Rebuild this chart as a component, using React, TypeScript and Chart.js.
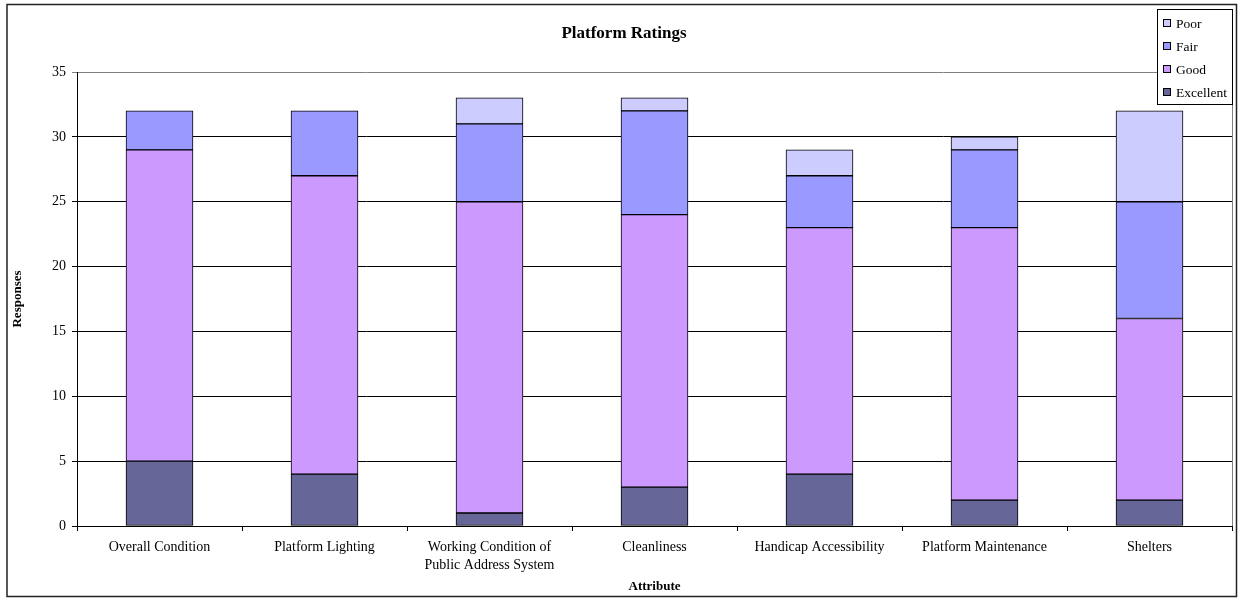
import { useEffect, useRef } from 'react';
import { Chart, registerables } from 'chart.js';

Chart.register(...registerables);

// Survey responses per platform attribute
const categories: (string | string[])[] = [
  'Overall Condition',
  'Platform Lighting',
  ['Working Condition of', 'Public Address System'],
  'Cleanliness',
  'Handicap Accessibility',
  'Platform Maintenance',
  'Shelters',
];
const excellent = [5, 4, 1, 3, 4, 2, 2];
const good = [24, 23, 24, 21, 19, 21, 14];
const fair = [3, 5, 6, 8, 4, 6, 9];
const poor = [0, 0, 2, 1, 2, 1, 7];

const seriesNames = ['Excellent', 'Good', 'Fair', 'Poor'];
const seriesColors = ['#666699', '#CC99FF', '#9999FF', '#CCCCFF'];

const chartTitle = 'Platform Ratings';
const xTitle = 'Attribute';
const yTitle = 'Responses';
const yMax = 35;
const yStep = 5;

const SERIF = "'Liberation Serif', 'Times New Roman', serif";

const decorations = {
  id: 'decorations',
  afterDraw(chart: Chart) {
    const { ctx, chartArea, width, height } = chart;
    ctx.save();

    // plot-area right edge
    ctx.strokeStyle = '#808080';
    ctx.lineWidth = 1;
    ctx.beginPath();
    ctx.moveTo(Math.round(chartArea.right) + 0.5, chartArea.top);
    ctx.lineTo(Math.round(chartArea.right) + 0.5, chartArea.bottom);
    ctx.stroke();

    // outer frame
    ctx.strokeStyle = '#222';
    ctx.lineWidth = 1.5;
    ctx.strokeRect(7, 4.5, width - 8.5, height - 6);

    // title
    ctx.fillStyle = '#000';
    ctx.textAlign = 'center';
    ctx.textBaseline = 'middle';
    ctx.font = `bold 17px ${SERIF}`;
    ctx.fillText(chartTitle, 624, 34);

    // axis titles
    ctx.font = `bold 13px ${SERIF}`;
    ctx.fillText(xTitle, (chartArea.left + chartArea.right) / 2, 587);
    ctx.save();
    ctx.translate(18, (chartArea.top + chartArea.bottom) / 2);
    ctx.rotate(-Math.PI / 2);
    ctx.fillText(yTitle, 0, 0);
    ctx.restore();

    // legend (top series first)
    const lx = 1157;
    const ly = 9;
    const lw = 75;
    const lh = 95;
    ctx.fillStyle = '#fff';
    ctx.fillRect(lx, ly, lw, lh);
    ctx.strokeStyle = '#000';
    ctx.lineWidth = 1;
    ctx.strokeRect(lx + 0.5, ly + 0.5, lw, lh);
    ctx.font = `13.5px ${SERIF}`;
    ctx.textAlign = 'left';
    for (let i = 0; i < seriesNames.length; i++) {
      const idx = seriesNames.length - 1 - i;
      const cy = 23 + i * 23;
      ctx.fillStyle = seriesColors[idx];
      ctx.fillRect(1163, cy - 4, 8, 8);
      ctx.strokeStyle = '#000';
      ctx.strokeRect(1163.5, cy - 3.5, 7, 7);
      ctx.fillStyle = '#000';
      ctx.fillText(seriesNames[idx], 1176, cy + 1);
    }
    ctx.restore();
  },
};

export default function App() {
  const canvasRef = useRef<HTMLCanvasElement | null>(null);

  useEffect(() => {
    if (!canvasRef.current) return;
    const values = [excellent, good, fair, poor];
    const chart = new Chart(canvasRef.current, {
      type: 'bar',
      data: {
        labels: categories,
        datasets: seriesNames.map((name, i) => ({
          label: name,
          data: values[i],
          backgroundColor: seriesColors[i],
          borderColor: '#000',
          borderWidth: 1,
          borderSkipped: false,
          barThickness: 67,
        })),
      },
      options: {
        animation: false,
        responsive: false,
        maintainAspectRatio: false,
        layout: { padding: { left: 0, top: 72, right: 6, bottom: 0 } },
        plugins: {
          legend: { display: false },
          title: { display: false },
          tooltip: { enabled: false },
        },
        scales: {
          x: {
            stacked: true,
            afterFit: (scale: any) => {
              scale.height = 72;
            },
            grid: {
              drawOnChartArea: false,
              drawTicks: true,
              tickLength: 5,
              color: '#000',
            },
            border: { color: '#000', width: 1 },
            ticks: {
              color: '#000',
              font: { family: SERIF, size: 14, lineHeight: 1.3 },
              maxRotation: 0,
              autoSkip: false,
              padding: 7,
            },
          },
          y: {
            stacked: true,
            min: 0,
            max: yMax,
            afterFit: (scale: any) => {
              scale.width = 77;
            },
            grid: {
              color: (c: any) => (c.tick && c.tick.value === yMax ? '#808080' : '#000'),
              tickLength: 5,
              lineWidth: 1,
            },
            border: { color: '#000', width: 1 },
            ticks: {
              stepSize: yStep,
              color: '#000',
              font: { family: SERIF, size: 14 },
              padding: 6,
            },
          },
        },
      },
      plugins: [decorations],
    });
    return () => chart.destroy();
  }, []);

  return (
    <div style={{ position: 'absolute', left: 0, top: 0, width: 1238, height: 598, background: '#fff' }}>
      <canvas ref={canvasRef} width={1238} height={598} style={{ display: 'block' }} />
    </div>
  );
}
